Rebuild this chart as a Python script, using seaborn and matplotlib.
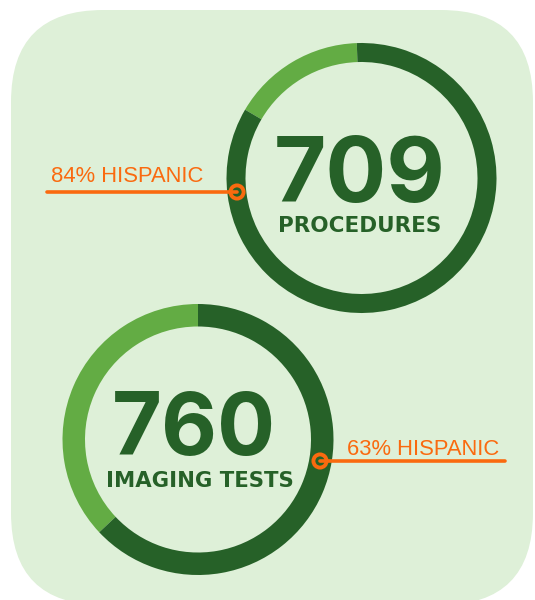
import matplotlib
matplotlib.use("Agg")
import matplotlib.pyplot as plt
import seaborn as sns
import pandas as pd
from matplotlib.patches import FancyBboxPatch

# ---- data ----
counts = [709, 760]
count_labels = ["PROCEDURES", "IMAGING TESTS"]
hispanic_pct = [84, 63]
hispanic_labels = ["84% HISPANIC", "63% HISPANIC"]

# ---- style ----
DARK = "#266128"
LIGHT = "#63AC44"
BG = "#DEF0D8"
ORANGE = "#FA6A0F"

sns.set_theme(style="white")
plt.rcParams['font.family'] = ['Inter', 'DejaVu Sans']

W, H = 535, 600
fig = plt.figure(figsize=(W / 100, H / 100), dpi=100)
ax = fig.add_axes([0, 0, 1, 1])

def Y(yp):
    return H - yp

# background card
card = FancyBboxPatch((11, Y(605)), 522, 595, boxstyle="round,pad=0,rounding_size=92",
                      facecolor=BG, edgecolor="none", zorder=0)
ax.add_patch(card)

# donut layout (pixel coords)
centers = [(361.5, 178), (198, 439.5)]
radii = [135, 135.5]
widths = [19, 22.5]
starts = [92, 90]

for i in range(2):
    p = hispanic_pct[i]
    cx, cy = centers[i]
    ax.pie([100 - p, p], colors=[LIGHT, DARK], startangle=starts[i], counterclock=True,
           radius=radii[i], center=(cx, Y(cy)),
           wedgeprops=dict(width=widths[i], edgecolor="none", linewidth=0), frame=True)

# big numbers and labels
ax.text(360, Y(202), f"{counts[0]}", fontsize=65, fontweight="bold", color=DARK,
        ha="center", va="baseline")
ax.text(360, Y(232), count_labels[0], fontsize=15.5, fontweight="bold", color=DARK,
        family=['DejaVu Sans'], ha="center", va="baseline")
ax.text(193.5, Y(455), f"{counts[1]}", fontsize=62, fontweight="bold", color=DARK,
        ha="center", va="baseline")
ax.text(199.5, Y(487), count_labels[1], fontsize=15.3, fontweight="bold", color=DARK,
        family=['DejaVu Sans'], ha="center", va="baseline")

# leader lines
lines = pd.DataFrame({
    "x": [47, 237, 320, 505],
    "y": [Y(192), Y(192), Y(461), Y(461)],
    "grp": ["a", "a", "b", "b"],
})
for g, d in lines.groupby("grp"):
    sns.lineplot(data=d, x="x", y="y", ax=ax, color=ORANGE, linewidth=2.6,
                 sort=False, estimator=None, legend=False, zorder=5)
marks = pd.DataFrame({"x": [237, 320], "y": [Y(192), Y(461)]})
sns.scatterplot(data=marks, x="x", y="y", ax=ax, s=90, facecolor="none",
                edgecolor=ORANGE, linewidth=2.8, zorder=6, legend=False)

ax.text(51, Y(182), hispanic_labels[0], fontsize=15.8, color=ORANGE,
        family=['Liberation Sans', 'DejaVu Sans'], ha="left", va="baseline")
ax.text(347, Y(455), hispanic_labels[1], fontsize=15.8, color=ORANGE,
        family=['Liberation Sans', 'DejaVu Sans'], ha="left", va="baseline")

ax.set_xlim(0, W)
ax.set_ylim(0, H)
ax.set_aspect("equal")
ax.axis("off")
ax.set_xlabel("")
ax.set_ylabel("")

fig.savefig("out.png", dpi=100, facecolor="white")
